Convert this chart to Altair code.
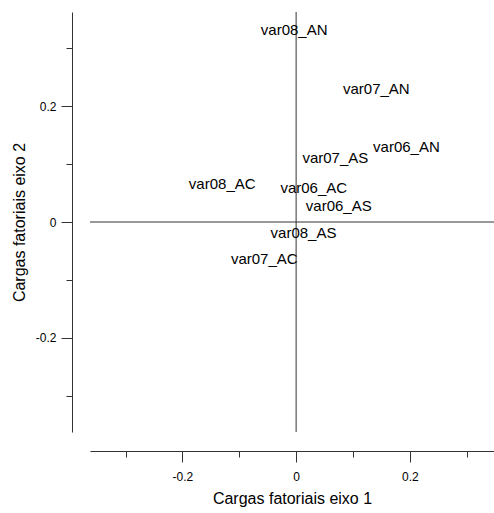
import altair as alt
import pandas as pd

labels = ["var08_AN", "var07_AN", "var06_AN", "var07_AS", "var08_AC",
          "var06_AC", "var06_AS", "var08_AS", "var07_AC"]
eixo1 = [-0.0035, 0.141, 0.194, 0.069, -0.130, 0.031, 0.075, 0.013, -0.056]
eixo2 = [0.331, 0.229, 0.129, 0.110, 0.066, 0.058, 0.027, -0.019, -0.064]

major_ticks = [-0.2, 0, 0.2]
minor_ticks = [-0.3, -0.1, 0.1, 0.3]

df = pd.DataFrame({"label": labels, "x": eixo1, "y": eixo2})
ref = pd.DataFrame({"zero": [0.0]})

FONT = "Liberation Sans"
AX = "#333333"
LBL = "datum.value == 0 ? '0' : (datum.value < 0 ? '-' : '') + format(abs(datum.value), '.1f')"

xs = alt.Scale(domain=[-0.3625, 0.348], nice=False, zero=False)
ys = alt.Scale(domain=[-0.3625, 0.3625], nice=False, zero=False)

x_major = alt.Axis(orient="bottom", values=major_ticks, tickSize=11, offset=19,
                   grid=False, domainColor=AX, tickColor=AX, labelFont=FONT,
                   labelFontSize=12, labelColor="black", labelPadding=9,
                   labelExpr=LBL,
                   title="Cargas fatoriais eixo 1", titleFont=FONT, titleFontSize=16,
                   titleFontWeight="normal", titleColor="black", titlePadding=8)
y_major = alt.Axis(orient="left", values=major_ticks, tickSize=11, offset=18,
                   grid=False, domainColor=AX, tickColor=AX, labelFont=FONT,
                   labelFontSize=12, labelColor="black", labelPadding=5,
                   labelExpr=LBL,
                   title="Cargas fatoriais eixo 2", titleFont=FONT, titleFontSize=16,
                   titleFontWeight="normal", titleColor="black", titlePadding=8)
x_minor = alt.Axis(orient="bottom", values=minor_ticks, tickSize=6, offset=19,
                   grid=False, domain=False, tickColor=AX, labels=False, title=None)
y_minor = alt.Axis(orient="left", values=minor_ticks, tickSize=6, offset=18,
                   grid=False, domain=False, tickColor=AX, labels=False, title=None)

text = alt.Chart(df).mark_text(font=FONT, fontSize=15, color="black").encode(
    x=alt.X("x:Q", scale=xs, axis=x_major),
    y=alt.Y("y:Q", scale=ys, axis=y_major),
    text="label:N",
)

vline = alt.Chart(ref).mark_rule(color=AX, strokeWidth=1).encode(
    x=alt.X("zero:Q", scale=xs, axis=x_minor),
)
hline = alt.Chart(ref).mark_rule(color=AX, strokeWidth=1).encode(
    y=alt.Y("zero:Q", scale=ys, axis=y_minor),
)

chart = alt.layer(vline, hline, text).resolve_axis(
    x="independent", y="independent"
).properties(
    width=404, height=420,
    autosize=alt.AutoSizeParams(type="none"),
    padding={"left": 90, "top": 12, "right": 0, "bottom": 81},
).configure(background="white").configure_view(stroke="transparent", strokeWidth=0)

chart.save("out.html", embed_options={"renderer": "svg", "actions": False})
